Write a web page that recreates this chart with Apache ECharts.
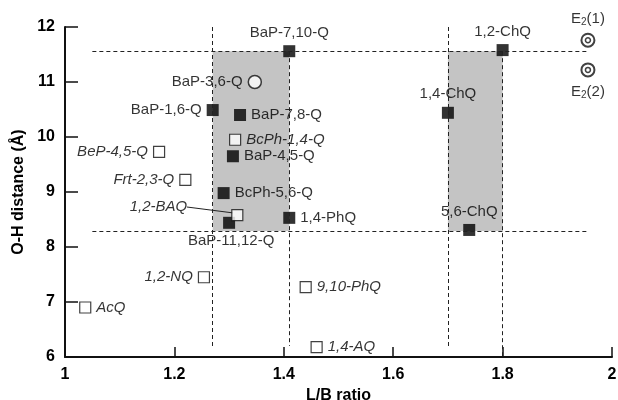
<!DOCTYPE html>
<html>
<head>
<meta charset="utf-8">
<script src="https://cdn.jsdelivr.net/npm/echarts@6/dist/echarts.min.js"></script>
<style>
  html, body { margin: 0; padding: 0; background: #fff; }
  #chart { width: 618px; height: 400px; }
</style>
</head>
<body>
<div id="chart"></div>
<script>
// filled squares
var filledNames = ['BaP-7,10-Q', 'BaP-1,6-Q', 'BaP-7,8-Q', 'BaP-4,5-Q', 'BcPh-5,6-Q', 'BaP-11,12-Q', '1,4-PhQ', '1,2-ChQ', '1,4-ChQ', '5,6-ChQ'];
var filledX = [1.41, 1.27, 1.32, 1.307, 1.29, 1.30, 1.41, 1.80, 1.70, 1.739];
var filledY = [11.56, 10.49, 10.40, 9.65, 8.98, 8.44, 8.53, 11.58, 10.44, 8.31];

// open squares (italic labels)
var openNames = ['BcPh-1,4-Q', '1,2-BAQ', '9,10-PhQ', '1,4-AQ', '1,2-NQ', 'AcQ', 'BeP-4,5-Q', 'Frt-2,3-Q'];
var openX = [1.311, 1.315, 1.44, 1.46, 1.254, 1.037, 1.172, 1.22];
var openY = [9.95, 8.58, 7.27, 6.18, 7.45, 6.90, 9.73, 9.22];

// open circle
var circleNames = ['BaP-3,6-Q'];
var circleX = [1.347];
var circleY = [11.0];

// double circles
var e2Names = ['E2(1)', 'E2(2)'];
var e2X = [1.956, 1.956];
var e2Y = [11.76, 11.22];

// shaded boxes [x1, x2] and y range
var boxX1 = [1.27, 1.70];
var boxX2 = [1.41, 1.80];
var boxYTop = 11.56;
var boxYBottom = 8.29;

// dashed guide lines
var hLineY = [11.56, 8.29];
var hLineX = [1.05, 1.955];
var vLineX = [1.27, 1.41, 1.70, 1.80];
var vLineTop = [12.0, 11.56, 12.0, 11.56];
var vLineBottom = [6.2, 6.2, 6.2, 6.02];

// leader line for 1,2-BAQ
var leaderX = [1.223, 1.307];
var leaderY = [8.727, 8.62];

var labelPos = {
    'BaP-7,10-Q': 'top', 'BaP-1,6-Q': 'left', 'BaP-7,8-Q': 'right', 'BaP-4,5-Q': 'right',
    'BcPh-5,6-Q': 'right', 'BaP-11,12-Q': 'bottom', '1,4-PhQ': 'right', '1,2-ChQ': 'top',
    '1,4-ChQ': 'top', '5,6-ChQ': 'top', 'BcPh-1,4-Q': 'right', '1,2-BAQ': 'left',
    '9,10-PhQ': 'right', '1,4-AQ': 'right', '1,2-NQ': 'left', 'AcQ': 'right',
    'BeP-4,5-Q': 'left', 'Frt-2,3-Q': 'left', 'BaP-3,6-Q': 'left', 'E2(1)': 'top', 'E2(2)': 'bottom'
};

var FONT = '"Liberation Sans", Arial, sans-serif';

function points(names, xs, ys) {
    return names.map(function (n, i) {
        var lab = { position: labelPos[n] };
        if (n === '1,2-BAQ') {
            lab.distance = 44;
            lab.offset = [0, -8];
        }
        if (n === 'BaP-11,12-Q') {
            lab.offset = [2, 0];
        }
        return { name: n, value: [xs[i], ys[i]], label: lab };
    });
}

var baseLabel = {
    show: true,
    formatter: '{b}',
    color: '#000',
    fontSize: 15,
    fontFamily: FONT,
    distance: 5
};

var dashedLines = [];
hLineY.forEach(function (y) {
    dashedLines.push([{ coord: [hLineX[0], y] }, { coord: [hLineX[1], y] }]);
});
vLineX.forEach(function (x, i) {
    dashedLines.push([{ coord: [x, vLineTop[i]] }, { coord: [x, vLineBottom[i]] }]);
});

var areas = boxX1.map(function (x, i) {
    return [{ coord: [x, boxYTop] }, { coord: [boxX2[i], boxYBottom] }];
});

var chart = echarts.init(document.getElementById('chart'));
chart.setOption({
    animation: false,
    backgroundColor: '#fff',
    grid: { left: 65, right: 6, top: 27, bottom: 43, containLabel: false, outerBoundsMode: 'none' },
    xAxis: {
        type: 'value',
        min: 1,
        max: 2,
        interval: 0.2,
        name: 'L/B ratio',
        nameLocation: 'middle',
        nameGap: 26,
        nameTextStyle: { fontSize: 16, fontWeight: 'bold', color: '#000', fontFamily: FONT },
        axisLine: { lineStyle: { color: '#111', width: 2 } },
        axisTick: { inside: true, length: 10, lineStyle: { color: '#111', width: 1.5 } },
        axisLabel: { fontSize: 16, fontWeight: 'bold', color: '#000', fontFamily: FONT, margin: 10 },
        splitLine: { show: false }
    },
    yAxis: {
        type: 'value',
        min: 6,
        max: 12,
        interval: 1,
        name: 'O-H distance (Å)',
        nameLocation: 'middle',
        nameGap: 31,
        nameTextStyle: { fontSize: 16, fontWeight: 'bold', color: '#000', fontFamily: FONT },
        axisLine: { lineStyle: { color: '#111', width: 2 } },
        axisTick: { inside: true, length: 13, lineStyle: { color: '#111', width: 1.5 } },
        axisLabel: { fontSize: 16, fontWeight: 'bold', color: '#000', fontFamily: FONT, margin: 10 },
        splitLine: { show: false }
    },
    series: [
        {
            type: 'scatter',
            data: [],
            z: 1,
            markArea: {
                silent: true,
                itemStyle: { color: '#c4c4c4' },
                data: areas
            },
            markLine: {
                silent: true,
                symbol: 'none',
                label: { show: false },
                lineStyle: { color: '#222', type: [4, 3], width: 1 },
                data: dashedLines
            }
        },
        {
            type: 'line',
            data: leaderX.map(function (x, i) { return [x, leaderY[i]]; }),
            showSymbol: false,
            lineStyle: { color: '#222', width: 1 },
            z: 2
        },
        {
            type: 'scatter',
            symbol: 'rect',
            symbolSize: 12,
            itemStyle: { color: '#000' },
            label: baseLabel,
            data: points(filledNames, filledX, filledY),
            z: 3
        },
        {
            type: 'scatter',
            symbol: 'rect',
            symbolSize: 11,
            itemStyle: { color: '#fff', borderColor: '#111', borderWidth: 1.2 },
            label: Object.assign({}, baseLabel, { fontStyle: 'italic' }),
            data: points(openNames, openX, openY),
            z: 3
        },
        {
            type: 'scatter',
            symbol: 'circle',
            symbolSize: 13,
            itemStyle: { color: '#fff', borderColor: '#111', borderWidth: 1.5 },
            label: baseLabel,
            data: points(circleNames, circleX, circleY),
            z: 3
        },
        {
            type: 'scatter',
            symbol: 'circle',
            symbolSize: 13,
            itemStyle: { color: '#fff', borderColor: '#111', borderWidth: 2 },
            label: Object.assign({}, baseLabel, {
                formatter: function (p) {
                    return 'E{s|2}' + p.name.slice(2);
                },
                rich: { s: { fontSize: 10, verticalAlign: 'bottom', padding: [8, 0, 0, 0], fontFamily: FONT, color: '#000' } }
            }),
            data: points(e2Names, e2X, e2Y),
            z: 3
        },
        {
            type: 'scatter',
            symbol: 'circle',
            symbolSize: 5,
            itemStyle: { color: '#fff', borderColor: '#111', borderWidth: 1.5 },
            data: e2X.map(function (x, i) { return [x, e2Y[i]]; }),
            z: 4
        }
    ]
});
</script>
</body>
</html>
